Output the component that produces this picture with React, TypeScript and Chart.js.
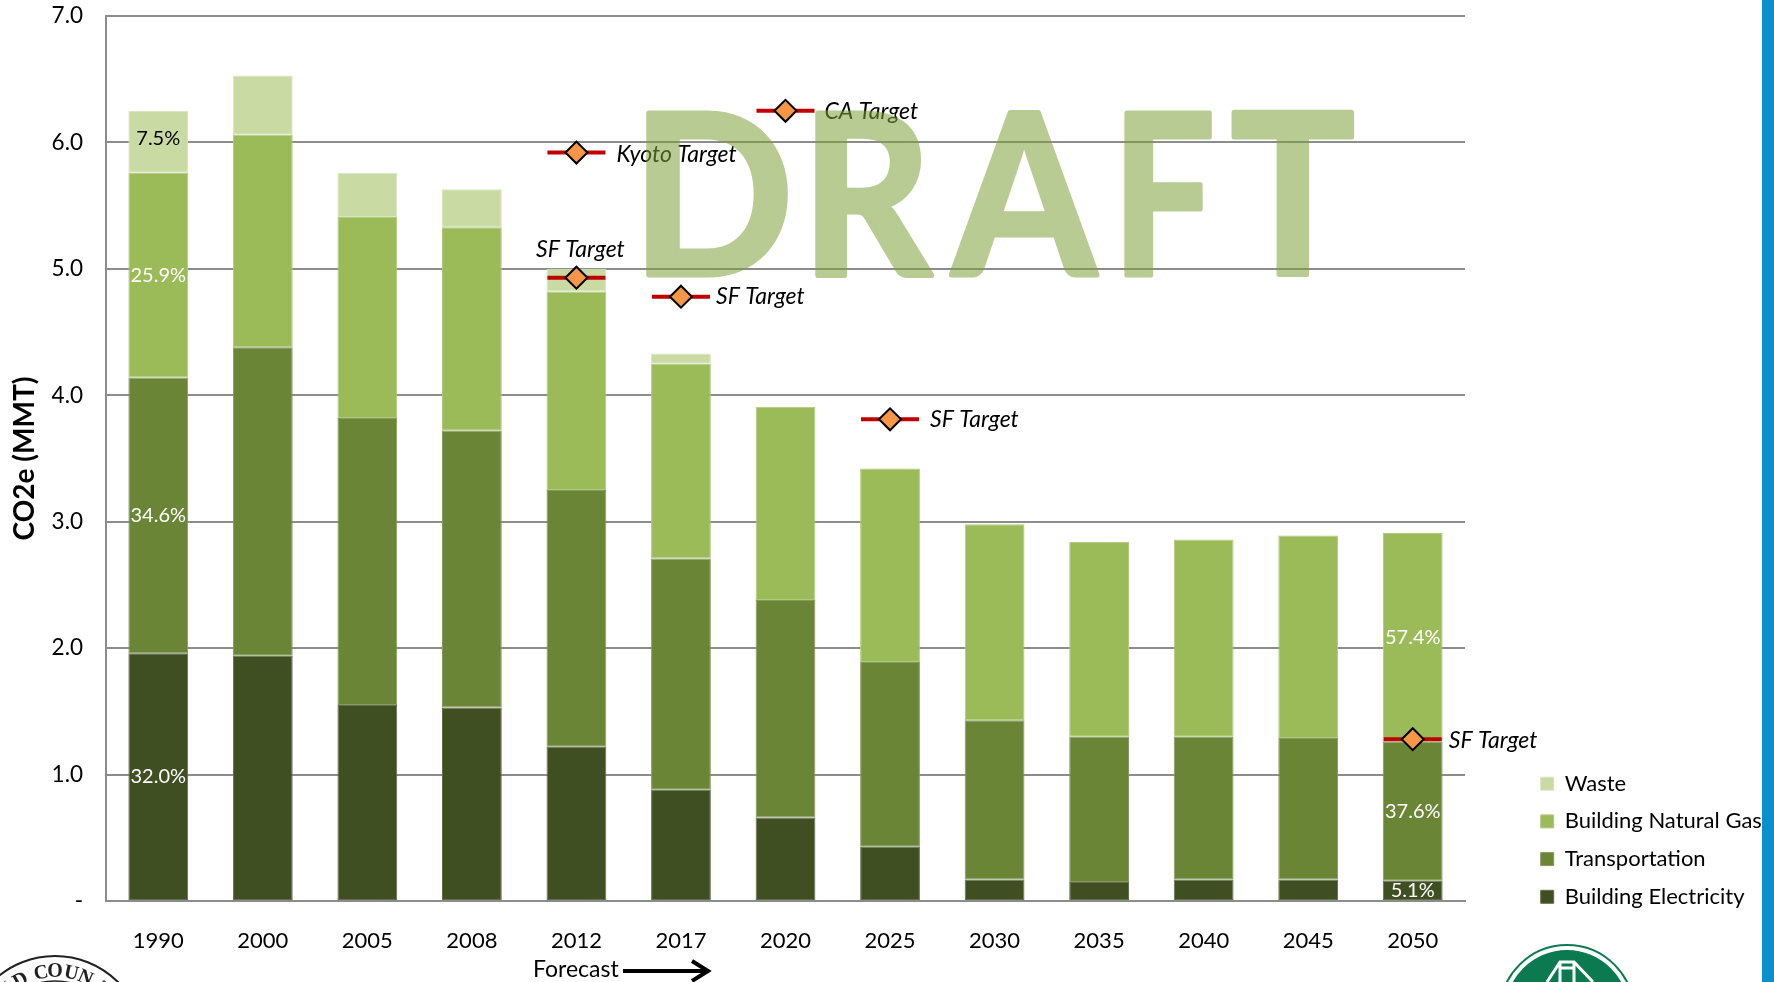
import React, { useEffect, useRef } from "react";
import { Chart, registerables } from "chart.js";

Chart.register(...registerables);

const categories = ["1990","2000","2005","2008","2012","2017","2020","2025","2030","2035","2040","2045","2050"];
const electricity = [1.96,1.94,1.55,1.53,1.22,0.88,0.66,0.43,0.17,0.15,0.17,0.17,0.16];
const transportation = [2.18,2.44,2.27,2.19,2.03,1.83,1.72,1.46,1.26,1.15,1.13,1.12,1.10];
const naturalGas = [1.62,1.68,1.59,1.61,1.57,1.54,1.53,1.53,1.55,1.54,1.56,1.60,1.65];
const waste = [0.49,0.47,0.35,0.30,0.18,0.08,null,null,null,null,null,null,null];

const electricityPct = ["32.0%",null,null,null,null,null,null,null,null,null,null,null,"5.1%"];
const transportationPct = ["34.6%",null,null,null,null,null,null,null,null,null,null,null,"37.6%"];
const naturalGasPct = ["25.9%",null,null,null,null,null,null,null,null,null,null,null,"57.4%"];
const wastePct = ["7.5%",null,null,null,null,null,null,null,null,null,null,null,null];
const pctBySeries = [electricityPct, transportationPct, naturalGasPct, wastePct];

const kyotoTarget = [null,null,null,null,5.92,null,null,null,null,null,null,null,null];
const caTarget = [null,null,null,null,null,null,6.25,null,null,null,null,null,null];
const sfTarget = [null,null,null,null,4.93,4.78,null,3.81,null,null,null,null,1.28];

const draftLetters = ["D","R","A","F","T"];
const draftLefts = [646,815,948,1124,1231];
const draftWidths = [142,120,152,89,124];
const sealLetters = ["N","D","C","O","U","N","T","Y"];
const sealOffsets = [-46,-32,-13,0,15,28,45,58];

const FONT = "Lato";
const GRID = "#8c8c8c";
const seriesColors = ["#404f22", "#6a8535", "#9bbb59", "#c9daa3"];
const seriesEdges = ["#626e4b", "#86995f", "#b0ca7e", "#d8e5bf"];

const markerLine = (label: string, data: (number | null)[], stack: string) => ({
  type: "line", label, data, stack, showLine: false, order: 2,
  pointStyle: "line", pointRadius: 29, pointBorderColor: "#c00000", pointBorderWidth: 4,
  pointBackgroundColor: "#c00000",
});
const markerDiamond = (label: string, data: (number | null)[], stack: string) => ({
  type: "line", label, data, stack, showLine: false, order: 1,
  pointStyle: "rectRot", pointRadius: 11, pointBorderColor: "#000", pointBorderWidth: 2,
  pointBackgroundColor: "#f79646",
});
const bar = (label: string, data: (number | null)[], i: number) => ({
  type: "bar", label, data, backgroundColor: seriesColors[i], stack: "bars", order: 10,
  borderColor: seriesEdges[i], borderWidth: 1, borderSkipped: false,
  barPercentage: 0.572, categoryPercentage: 1,
});

const percentLabels = {
  id: "percentLabels",
  afterDatasetsDraw(chart: any) {
    const { ctx } = chart;
    ctx.save();
    ctx.font = `20px ${FONT}`;
    ctx.textAlign = "center";
    ctx.textBaseline = "middle";
    pctBySeries.forEach((arr, d) => {
      const meta = chart.getDatasetMeta(d);
      arr.forEach((t, i) => {
        if (!t) return;
        const el = meta.data[i];
        ctx.fillStyle = d === 3 ? "#000" : "#fff";
        ctx.fillText(t, el.x, (el.y + el.base) / 2 + (d === 3 ? -3 : 0));
      });
    });
    ctx.restore();
  },
};

const targetLabels = {
  id: "targetLabels",
  afterDatasetsDraw(chart: any) {
    const { ctx } = chart;
    const draw = (di: number, cat: string, text: string, dx: number, dy: number, align: CanvasTextAlign) => {
      const el = chart.getDatasetMeta(di).data[categories.indexOf(cat)];
      ctx.textAlign = align;
      ctx.fillText(text, el.x + dx, el.y + dy);
    };
    ctx.save();
    ctx.font = `italic 23px ${FONT}`;
    ctx.fillStyle = "#000";
    ctx.textBaseline = "middle";
    draw(5, "2012", "Kyoto Target", 40, 2, "left");
    draw(7, "2020", "CA Target", 39, 1, "left");
    draw(9, "2012", "SF Target", 4, -28, "center");
    draw(9, "2017", "SF Target", 35, 0, "left");
    draw(9, "2025", "SF Target", 40, 0, "left");
    draw(9, "2050", "SF Target", 36, 1, "left");
    ctx.restore();
  },
};

const decorations = {
  id: "decorations",
  afterLayout(chart: any) {
    const lg = chart.legend;
    lg.left = 1525;
    lg.top = 757;
    lg.width = 240;
    lg.right = 1765;
    lg.height = 190;
    lg.bottom = 947;
  },
  afterDraw(chart: any) {
    const { ctx } = chart;
    ctx.save();
    // DRAFT watermark, composed opaque then laid over with one alpha
    const off = document.createElement("canvas");
    off.width = 1774;
    off.height = 400;
    const o = off.getContext("2d") as CanvasRenderingContext2D;
    o.font = `bold 224px ${FONT}`;
    o.fillStyle = "rgb(124,160,57)";
    o.strokeStyle = "rgb(124,160,57)";
    o.lineWidth = 5;
    o.lineJoin = "round";
    draftLetters.forEach((ch, i) => {
      const m = o.measureText(ch);
      const inkW = m.actualBoundingBoxLeft + m.actualBoundingBoxRight;
      const sx = (draftWidths[i] - 5) / inkW;
      o.save();
      o.translate(draftLefts[i] + 2.5 + m.actualBoundingBoxLeft * sx, 275);
      o.scale(sx, 1);
      o.fillText(ch, 0, 0);
      o.strokeText(ch, 0, 0);
      o.restore();
    });
    ctx.globalAlpha = 0.55;
    ctx.drawImage(off, 0, 0);
    ctx.globalAlpha = 1;
    // Forecast arrow
    ctx.fillStyle = "#000";
    ctx.font = `23px ${FONT}`;
    ctx.textAlign = "left";
    ctx.textBaseline = "middle";
    ctx.fillText("Forecast", 533, 970);
    ctx.strokeStyle = "#000";
    ctx.lineWidth = 4;
    ctx.beginPath();
    ctx.moveTo(623, 971);
    ctx.lineTo(708, 971);
    ctx.moveTo(692, 961);
    ctx.lineTo(708, 971);
    ctx.lineTo(692, 981);
    ctx.stroke();
    // blue strip
    ctx.fillStyle = "#0b8fcb";
    ctx.fillRect(1762, 0, 12, 982);
    // county seal
    const sx = 55, sy = 1045;
    ctx.strokeStyle = "#222";
    ctx.lineWidth = 2;
    ctx.beginPath();
    ctx.arc(sx, sy, 89, 0, Math.PI * 2);
    ctx.stroke();
    ctx.lineWidth = 1.5;
    ctx.beginPath();
    ctx.arc(sx, sy, 64, -Math.PI * 0.75, -Math.PI * 0.25);
    ctx.stroke();
    ctx.font = "bold 20px 'Liberation Serif'";
    ctx.fillStyle = "#222";
    ctx.textAlign = "center";
    ctx.textBaseline = "alphabetic";
    sealLetters.forEach((ch, i) => {
      const a = Math.asin(sealOffsets[i] / 68);
      ctx.save();
      ctx.translate(sx + Math.sin(a) * 68, sy - Math.cos(a) * 68);
      ctx.rotate(a);
      ctx.fillText(ch, 0, 0);
      ctx.restore();
    });
    // green emblem
    const ex = 1567, ey = 1012;
    ctx.strokeStyle = "#0c7a50";
    ctx.lineWidth = 2;
    ctx.beginPath();
    ctx.arc(ex, ey, 67, 0, Math.PI * 2);
    ctx.stroke();
    ctx.fillStyle = "#0c7a50";
    ctx.beginPath();
    ctx.arc(ex, ey, 62, 0, Math.PI * 2);
    ctx.fill();
    ctx.strokeStyle = "#fff";
    ctx.lineWidth = 3;
    ctx.beginPath();
    ctx.moveTo(ex - 20, 982);
    ctx.lineTo(ex - 7, 962);
    ctx.lineTo(ex + 7, 962);
    ctx.lineTo(ex + 26, 982);
    ctx.moveTo(ex - 7, 962);
    ctx.lineTo(ex - 7, 982);
    ctx.moveTo(ex + 7, 962);
    ctx.lineTo(ex + 7, 982);
    ctx.moveTo(ex - 7, 968);
    ctx.lineTo(ex + 7, 968);
    ctx.stroke();
    ctx.restore();
  },
};

export default function App() {
  const ref = useRef<HTMLCanvasElement>(null);
  useEffect(() => {
    const chart = new Chart(ref.current as HTMLCanvasElement, {
      type: "bar",
      data: {
        labels: categories,
        datasets: [
          bar("Building Electricity", electricity, 0),
          bar("Transportation", transportation, 1),
          bar("Building Natural Gas", naturalGas, 2),
          bar("Waste", waste, 3),
          markerLine("Kyoto Target line", kyotoTarget, "t1"),
          markerDiamond("Kyoto Target", kyotoTarget, "t2"),
          markerLine("CA Target line", caTarget, "t3"),
          markerDiamond("CA Target", caTarget, "t4"),
          markerLine("SF Target line", sfTarget, "t5"),
          markerDiamond("SF Target", sfTarget, "t6"),
        ] as any,
      },
      options: {
        responsive: false,
        animation: false,
        layout: { autoPadding: false, padding: { left: 0, top: 16, right: 209, bottom: 0 } },
        plugins: {
          tooltip: { enabled: false },
          legend: {
            display: true,
            position: "right",
            align: "start",
            maxWidth: 100,
            reverse: true,
            labels: {
              boxWidth: 13,
              boxHeight: 13,
              padding: 15.7,
              color: "#000",
              font: { family: FONT, size: 22 },
              filter: (item: any) => item.datasetIndex < 4,
            },
          },
        },
        scales: {
          x: {
            stacked: true,
            offset: true,
            grid: { display: false, drawTicks: false },
            border: { display: true, color: GRID, width: 2 },
            ticks: { color: "#000", font: { family: FONT, size: 22 }, padding: 27, maxRotation: 0, autoSkip: false },
            afterFit: (s: any) => { s.height = 81; s.paddingLeft = 0; s.paddingRight = 0; },
          },
          y: {
            stacked: true,
            min: 0,
            max: 7,
            grid: { color: GRID, lineWidth: 2, drawTicks: false },
            border: { display: true, color: GRID, width: 2 },
            ticks: {
              stepSize: 1,
              color: "#000",
              font: { family: FONT, size: 22.5 },
              padding: 23,
              callback: (v: any) => (Number(v) === 0 ? "-" : Number(v).toFixed(1)),
            },
            title: {
              display: true,
              text: "CO2e (MMT)",
              color: "#000",
              font: { family: FONT, size: 28, weight: "bold" },
              padding: { top: 8, bottom: 0 },
            },
            afterFit: (s: any) => { s.width = 106; s.paddingTop = 0; s.paddingBottom = 0; },
          },
        },
      } as any,
      plugins: [percentLabels, targetLabels, decorations],
    });
    return () => chart.destroy();
  }, []);
  return (
    <div style={{ position: "absolute", left: 0, top: 0, width: 1774, height: 982, background: "#fff" }}>
      <canvas ref={ref} width={1774} height={982} style={{ display: "block" }} />
    </div>
  );
}
